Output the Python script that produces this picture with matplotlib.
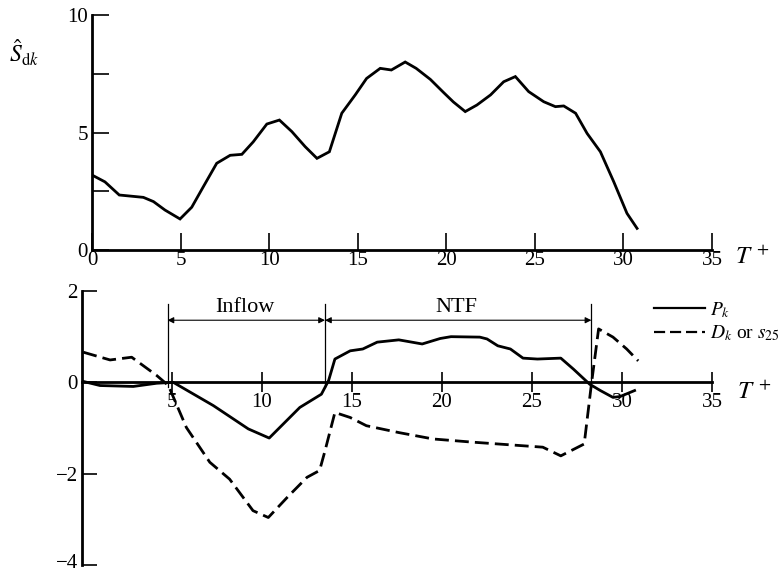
"""Two stacked panels: S_dk spectrum-like trace on top, P_k / D_k below (T+ axis)."""
import matplotlib
matplotlib.use("Agg")
import matplotlib.pyplot as plt
import matplotlib.transforms as mtransforms
from matplotlib.lines import Line2D

plt.rcParams["font.family"] = ["Liberation Serif", "DejaVu Serif"]
plt.rcParams["mathtext.fontset"] = "stix"

# ── data ─────────────────────────────────────────────────────────────────────
s_t = [0.0, 0.73, 1.54, 2.9, 3.47, 4.12, 4.97, 5.63, 6.29, 7.04, 7.8, 8.46,
       9.1, 9.87, 10.58, 11.28, 12.03, 12.7, 13.4, 14.1, 14.86, 15.5, 16.27,
       16.9, 17.68, 18.3, 19.1, 19.85, 20.4, 21.07, 21.73, 22.5, 23.24, 23.9,
       24.65, 25.5, 26.16, 26.63, 27.3, 27.95, 28.7, 29.45, 30.2, 30.77]
s_dk = [3.19, 2.9, 2.34, 2.24, 2.06, 1.70, 1.32, 1.82, 2.70, 3.69, 4.03, 4.07,
        4.6, 5.36, 5.53, 5.04, 4.40, 3.90, 4.18, 5.82, 6.6, 7.3, 7.73,
        7.66, 8.0, 7.73, 7.26, 6.7, 6.3, 5.89, 6.17, 6.6, 7.16, 7.38,
        6.74, 6.31, 6.1, 6.13, 5.82, 4.96, 4.18, 2.91, 1.56, 0.92]

p_t = [0.07, 1.0, 2.85, 4.15, 5.07, 7.3, 9.24, 10.4, 12.1, 13.3, 13.7, 14.05,
       14.9, 15.6, 16.4, 17.6, 18.9, 19.9, 20.5, 22.1, 22.5, 23.1, 23.8, 24.5,
       25.3, 26.6, 27.3, 28.2, 28.8, 29.5, 29.9, 30.7]
p_k = [0.02, -0.07, -0.09, -0.02, 0.0, -0.51, -1.02, -1.22, -0.55, -0.26, 0.04,
       0.51, 0.69, 0.73, 0.88, 0.93, 0.84, 0.96, 1.0, 0.99, 0.95, 0.8, 0.73,
       0.53, 0.51, 0.53, 0.29, -0.04, -0.18, -0.33, -0.31, -0.18]

d_t = [0.07, 1.56, 2.76, 4.15, 4.8, 5.8, 7.1, 8.2, 9.5, 10.35, 11.4, 12.5,
       13.2, 13.5, 14.05, 14.9, 15.8, 17.6, 19.5, 21.7, 25.6, 26.6, 27.9,
       28.3, 28.7, 29.5, 30.26, 30.9]
d_k = [0.66, 0.49, 0.55, 0.15, -0.07, -0.99, -1.75, -2.12, -2.81, -2.96, -2.52,
       -2.08, -1.93, -1.5, -0.66, -0.77, -0.95, -1.1, -1.24, -1.31, -1.42,
       -1.61, -1.35, -0.04, 1.17, 0.99, 0.73, 0.47]

phase_edges = [4.75, 13.5, 28.3]
phase_names = ["Inflow", "NTF"]

W, H = 780, 575
fig = plt.figure(figsize=(W / 100, H / 100), dpi=100)

def px_axes(x0, x1, ytop, ybot):
    return fig.add_axes([x0 / W, (H - ybot) / H, (x1 - x0) / W, (ybot - ytop) / H])

LW = 2.0
TICK_FS = 15

# ── top panel ────────────────────────────────────────────────────────────────
ax1 = px_axes(92, 712, 15, 250)
ax1.plot(s_t, s_dk, color="black", lw=LW, solid_joinstyle="miter")
ax1.set_xlim(0, 35)
ax1.set_ylim(0, 10)
for side in ("top", "right"):
    ax1.spines[side].set_visible(False)
for side in ("left", "bottom"):
    ax1.spines[side].set_linewidth(2.0)
ax1.set_xticks(range(0, 36, 5))
ax1.set_yticks([0, 2.5, 5, 7.5, 10])
ax1.set_yticklabels(["0", "", "5", "", "10"])
ax1.tick_params(direction="in", length=12, width=1.2, labelsize=TICK_FS, pad=3)
ax1.tick_params(axis="x", pad=1)
ax1.text((9 - 92) / 620, 0.84, r"$\hat{S}_{\mathrm{d}k}$", transform=ax1.transAxes,
         fontsize=17, ha="left", va="center")
ax1.text(36.3, -0.3, r"$T^{\,+}$", fontsize=18, ha="left", va="center",
         clip_on=False)

# ── bottom panel ─────────────────────────────────────────────────────────────
ax2 = px_axes(82, 712, 291, 565)
ax2.plot(p_t, p_k, color="black", lw=LW)
ax2.plot(d_t, d_k, color="black", lw=LW, dashes=(5, 2.2))
ax2.set_xlim(0, 35)
ax2.set_ylim(-4, 2)
for side in ("top", "right"):
    ax2.spines[side].set_visible(False)
ax2.spines["bottom"].set_position(("data", 0))
ax2.spines["bottom"].set_linewidth(2.0)
ax2.spines["left"].set_linewidth(2.0)
ax2.set_xticks(range(5, 36, 5))
ax2.set_yticks([-4, -2, 0, 2])
ax2.set_yticklabels(["\u22124", "\u22122", "0", "2"])
ax2.tick_params(axis="y", direction="in", length=11, width=1.2,
                labelsize=TICK_FS, pad=3)
ax2.tick_params(axis="x", direction="inout", length=14, width=1.2,
                labelsize=TICK_FS, pad=1)
# lift the lowest label a little so it stays inside the figure
lift = mtransforms.ScaledTranslation(0, 4 / 100, fig.dpi_scale_trans)
low = ax2.get_yticklabels()[0]
low.set_transform(low.get_transform() + lift)

# phase markers
for xe in phase_edges:
    ax2.plot([xe, xe], [1.72, -0.1], color="black", lw=0.9)
for (xa, xb), name in zip(zip(phase_edges[:-1], phase_edges[1:]), phase_names):
    ax2.annotate("", xy=(xa, 1.36), xytext=(xb, 1.36),
                 arrowprops=dict(arrowstyle="<|-|>", lw=0.8, color="black",
                                 shrinkA=0, shrinkB=0, mutation_scale=9))
    ax2.text((xa + xb) / 2 - 0.1, 1.43, name, fontsize=16, ha="center",
             va="bottom")

ax2.text(36.4, -0.22, r"$T^{\,+}$", fontsize=18, ha="left", va="center",
         clip_on=False)

handles = [Line2D([], [], color="black", lw=1.6),
           Line2D([], [], color="black", lw=1.6, dashes=(5, 2.2))]
ax2.legend(handles, ["$P_k$", "$D_k$ or $s_{25}$"], loc="upper left",
           bbox_to_anchor=(654 / W, (H - 300) / H), bbox_transform=fig.transFigure,
           frameon=False, fontsize=14, handlelength=2.6, handletextpad=0.3,
           borderpad=0, borderaxespad=0, labelspacing=0.2)

fig.savefig("out.png", dpi=100)
